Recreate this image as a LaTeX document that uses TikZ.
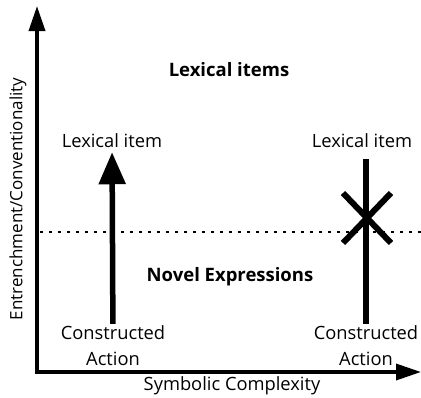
\documentclass[tikz,border=0pt]{standalone}
\usepackage{fontspec}
\setmainfont{Open Sans}
\usetikzlibrary{arrows.meta,positioning}

\begin{document}
\begin{tikzpicture}[
  x=1pt, y=-1pt,
  font=\fontsize{18.3}{26}\selectfont,
  lbl/.style={inner sep=1pt, align=center},
  head/.style={inner sep=1pt, font=\fontsize{18.5}{22}\selectfont\bfseries},
  axis/.style={line width=3.5pt, -{Triangle[length=25pt,width=16pt]}},
  bigarrow/.style={line width=5.5pt, -{Triangle[length=32pt,width=26pt]}},
  dotline/.style={line width=2.5pt, dash pattern=on 3pt off 6pt}
]
\useasboundingbox (0,0) rectangle (421,397);

% axes
\coordinate (origin) at (35,372);
\coordinate (ytop) at (37,6);
\coordinate (xend) at (421,372);
\draw[axis] (origin) -- (xend);
\draw[axis] ([yshift=-1.75pt]origin -| ytop) -- (ytop);

\node[lbl, rotate=90, font=\fontsize{17}{20}\selectfont] (ylab) at (18,199) {Entrenchment/Conventionality};
\node[lbl] (xlab) at (232,386) {Symbolic Complexity};

% boundary between regions
\coordinate (dl) at (40,232);
\coordinate (dr) at (421,232);
\draw[dotline] (dl) -- (dr);

\node[head] (lexitems) at (229,70) {Lexical items};
\node[head] (novel) at (230,277) {Novel Expressions};

% left: constructed action becomes lexical item
\node[lbl] (lexL) at (112,141) {Lexical item};
\node[lbl] (conL) at (113,346) {Constructed\\Action};
\draw[bigarrow, shorten <=1pt, shorten >=3pt] (conL) -- (lexL);

% right: blocked
\node[lbl] (lexR) at (362,141) {Lexical item};
\node[lbl] (conR) at (366,346) {Constructed\\Action};
\draw[line width=5.5pt, shorten <=1pt, shorten >=10pt] (conR.north) -- (conR.north |- lexR.south);
\coordinate (cross) at (367,218);
\draw[line width=6pt] ([shift={(-24,-25)}]cross) -- ([shift={(24,25)}]cross)
  ([shift={(24,-25)}]cross) -- ([shift={(-24,25)}]cross);
\end{tikzpicture}
\end{document}
